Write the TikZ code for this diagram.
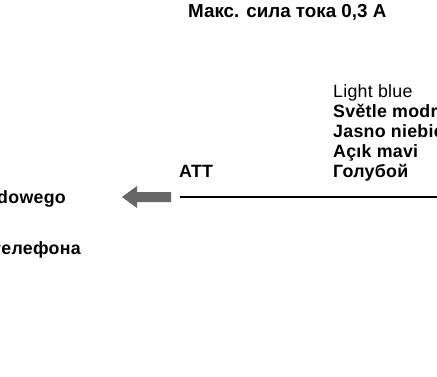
\documentclass[tikz,border=0pt]{standalone}
\usepackage{fontspec}
\setmainfont{Liberation Sans}
\newfontfamily\widesans[LetterSpace=1.5]{Liberation Sans}
\begin{document}
\begin{tikzpicture}[x=1pt,y=-1pt,
  label/.style={inner sep=0pt,anchor=base west,font=\widesans\fontsize{17.8}{19}\selectfont\bfseries},
  plain/.style={label,font=\widesans\fontsize{17.8}{19}\selectfont},
  title/.style={inner sep=0pt,anchor=base west,font=\fontsize{18.8}{20}\selectfont\bfseries},
  wire/.style={line width=2.5pt},
  pointer/.style={fill=black!60,draw=none}]
\useasboundingbox (0,0) rectangle (437,376);
\clip (0,0) rectangle (437,376);

% current rating
\node[title] (rating) at (188,17.5) {Макс. сила тока 0,3 А};

% colour of the lead, in several languages
\node[plain] (en) at (333,97) {Light blue};
\node[label] (cs) at (333,117) {Světle modrá};
\node[label] (pl) at (333,137) {Jasno niebieski};
\node[label] (tr) at (333,157) {Açık mavi};
\node[label] (ru) at (333,177) {Голубой};
\node[label] (att) at (179,177) {ATT};

% lead
\coordinate (wl) at (180,197);
\coordinate (wr) at (440,197);
\draw[wire] (wl) -- (wr);

% direction arrow
\fill[pointer] (122,197) -- (137,186) -- (137,192) -- (171,192)
  -- (171,202) -- (137,202) -- (137,208) -- cycle;

% socket captions
\node[label,anchor=base east] (pl2) at (66,203) {przewodowego};
\node[label,anchor=base east] (ru2) at (81,254) {телефона};
\end{tikzpicture}
\end{document}
